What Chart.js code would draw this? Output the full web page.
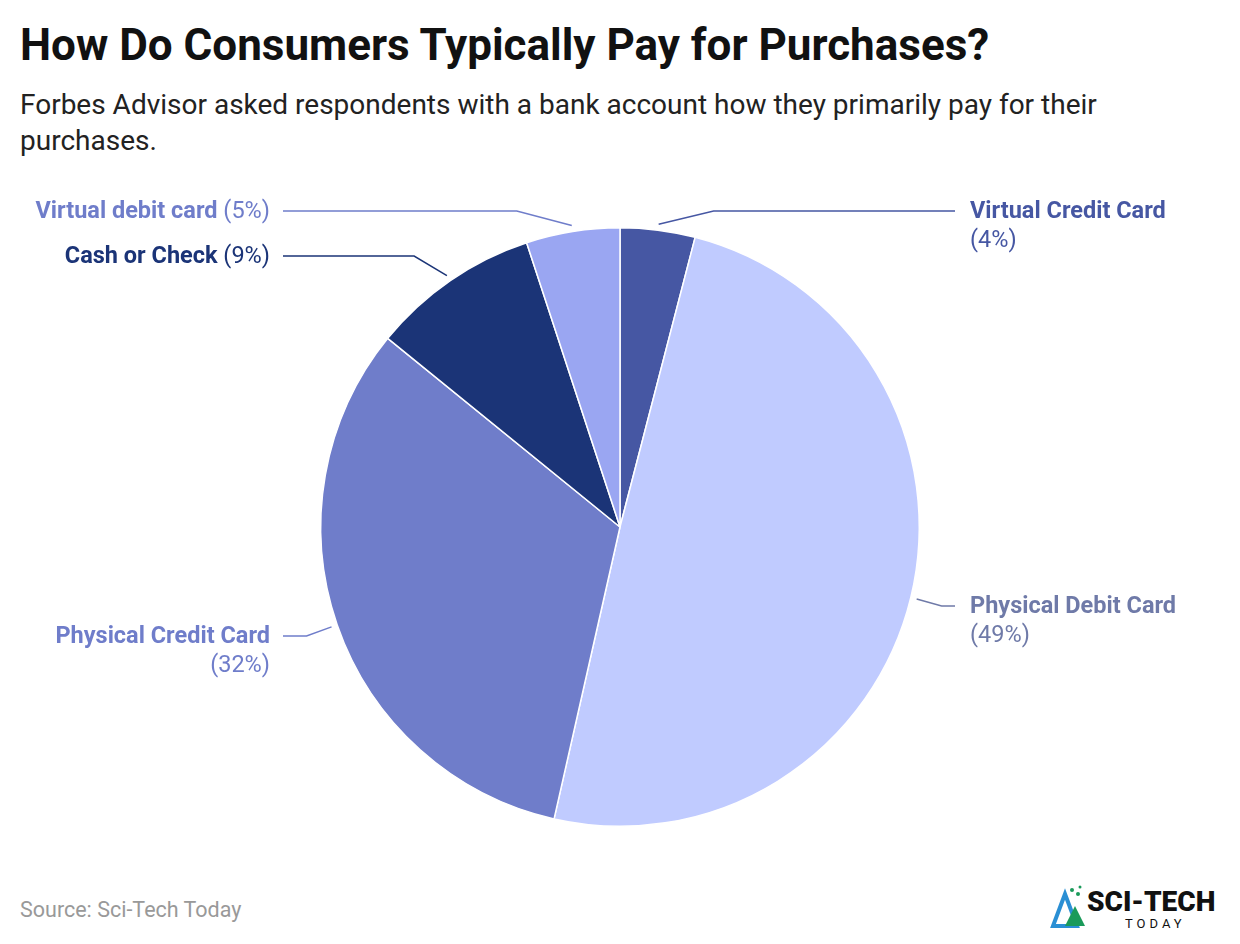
<!DOCTYPE html>
<html><head><meta charset="utf-8">
<script src="https://cdn.jsdelivr.net/npm/chart.js@4"></script>
<style>
body{margin:0;width:1240px;height:944px;background:#fff;font-family:Roboto,sans-serif;position:relative;overflow:hidden}
#t{position:absolute;left:20px;top:19px;font-size:44px;font-weight:700;color:#111;margin:0;line-height:52px}
#s{position:absolute;left:20px;top:87px;font-size:28px;color:#222;line-height:36px;width:1150px}
#src{position:absolute;left:20px;top:897px;font-size:21.5px;color:#999}
#logo{position:absolute;left:1050px;top:882px;width:185px;height:50px}
canvas{position:absolute;left:0;top:0}
</style></head><body>
<div id="t">How Do Consumers Typically Pay for Purchases?</div>
<div id="s">Forbes Advisor asked respondents with a bank account how they primarily pay for their purchases.</div>
<div id="src">Source: Sci-Tech Today</div>
<div id="logo">
<svg width="185" height="50"><polygon points="3,44 15,12 27,44" fill="none" stroke="#2a8fd4" stroke-width="4"/><polygon points="15,44 25,24 35,44" fill="#1a9a5a"/>
<circle cx="22" cy="8" r="2" fill="#1a9a5a"/><circle cx="28" cy="12" r="2" fill="#1a9a5a"/><circle cx="30" cy="5" r="1.5" fill="#1a9a5a"/>
<text x="37" y="29" font-family="Roboto" font-weight="900" font-size="28" fill="#111">SCI-TECH</text>
<text x="75" y="46" font-family="Roboto" font-size="13" letter-spacing="4" fill="#111">TODAY</text></svg></div>
<div style="position:absolute;left:0;top:0;width:1240px;height:944px"><canvas id="c"></canvas></div>
<script>
const categories=["Virtual Credit Card","Physical Debit Card","Physical Credit Card","Cash or Check","Virtual debit card"];
const values=[4,49,32,9,5];
const colors=["#4657a3","#c0cbff","#6f7dca","#1b3477","#9aa6f2"];
const textColors=["#4657a3","#6f7aa8","#6f7dca","#1b3477","#6f7dca"];
const lay=[{side:"R",y:211,two:true},{side:"R",y:606,two:true},{side:"L",y:636,two:true},{side:"L",y:256,two:false},{side:"L",y:211,two:false}];
const labelPlugin={id:"lbl",afterDraw(ch){
 const c=ch.ctx;const meta=ch.getDatasetMeta(0);
 meta.data.forEach((a,i)=>{
  const mid=(a.startAngle+a.endAngle)/2;const r=a.outerRadius;
  const x0=a.x+Math.cos(mid)*(r+6),y0=a.y+Math.sin(mid)*(r+6);
  const L=lay[i];const xe=L.side==="R"?955:283;const xk=x0+(L.side==="R"?1:-1)*Math.min(Math.abs(x0-xe)*0.2,55)*(i<2&&i>0?0.5:1);
  c.save();c.strokeStyle=textColors[i];c.lineWidth=1.5;c.beginPath();c.moveTo(x0,y0);c.lineTo(i===1?x0+25:(i===2?x0-25:xk),L.y);c.lineTo(xe,L.y);c.stroke();
  c.fillStyle=textColors[i];c.textBaseline="middle";
  const pct="("+values[i]+"%)";
  const fs=23.5;
  if(L.two){c.textAlign=L.side==="R"?"left":"right";const tx=L.side==="R"?970:270;
   c.font="bold "+fs+"px Roboto";c.fillText(categories[i],tx,L.y+1);
   c.font=fs+"px Roboto";c.fillText(pct,tx,L.y+30);}
  else{c.textAlign="right";c.font=fs+"px Roboto";c.fillText(pct,270,L.y+1);const w=c.measureText(" "+pct).width;
   c.font="bold "+fs+"px Roboto";c.fillText(categories[i],270-w,L.y+1);}
  c.restore();});}};
new Chart(document.getElementById("c"),{type:"pie",
 data:{labels:categories,datasets:[{data:values,backgroundColor:colors,borderColor:"#fff",borderWidth:1.5}]},
 options:{responsive:true,maintainAspectRatio:false,animation:false,
  layout:{padding:{top:227,bottom:117,left:320,right:320}},
  plugins:{legend:{display:false},tooltip:{enabled:false}}},
 plugins:[labelPlugin]});
</script></body></html>
